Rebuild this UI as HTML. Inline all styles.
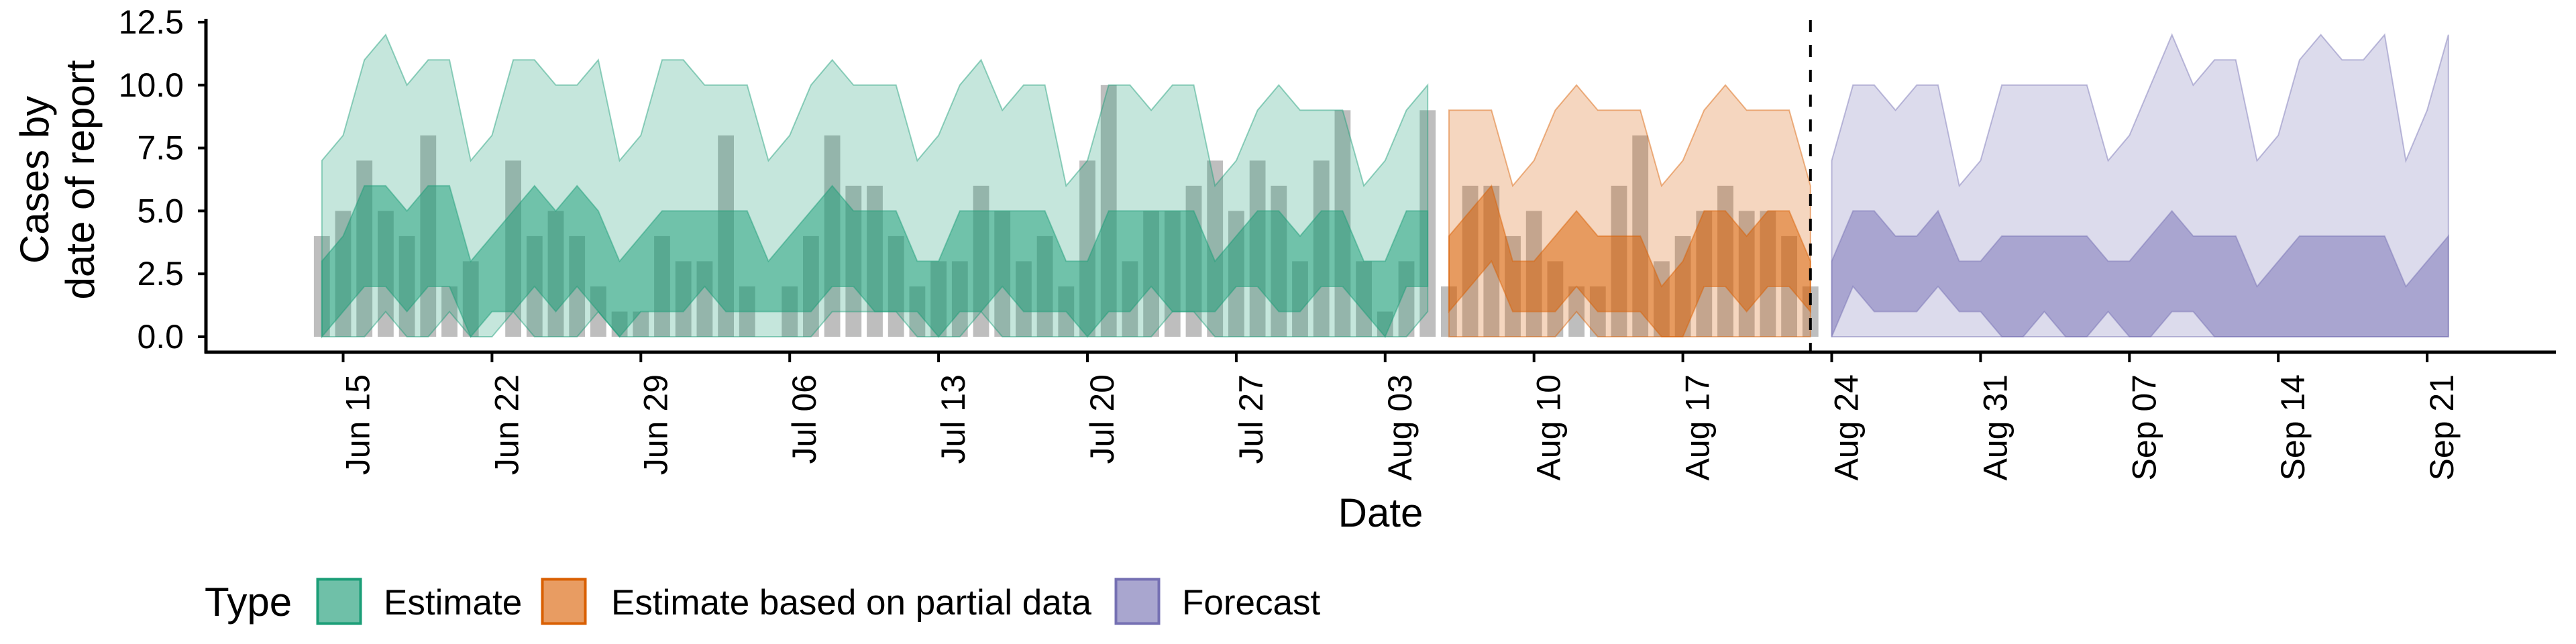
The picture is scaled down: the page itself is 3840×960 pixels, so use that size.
<!DOCTYPE html>
<html><head><meta charset="utf-8">
<style>
html,body{margin:0;padding:0;background:#fff;}
svg{display:block;font-family:"Liberation Sans",Arial,sans-serif;}
</style></head>
<body>
<svg id="chart" width="3840" height="960" viewBox="0 0 3840 960" xmlns="http://www.w3.org/2000/svg">
<g id="bars"></g>
<g id="ribbons"></g>
<g id="axes"></g>
<text x="2058" y="785" font-size="60" text-anchor="middle">Date</text>
<text transform="translate(72,268) rotate(-90)" font-size="60" text-anchor="middle">Cases by</text>
<text transform="translate(140,268) rotate(-90)" font-size="60" text-anchor="middle">date of report</text>
<g>
  <text x="305" y="918" font-size="60">Type</text>
  <g>
    <rect x="473.5" y="863.5" width="64" height="66" fill="#6fc0a8" stroke="#1b9e77" stroke-width="4"/>
    <text x="572" y="916" font-size="53">Estimate</text>
  </g>
  <g>
    <rect x="808.5" y="863.5" width="64" height="66" fill="#e89c62" stroke="#d95f02" stroke-width="4"/>
    <text x="911" y="916" font-size="53">Estimate based on partial data</text>
  </g>
  <g>
    <rect x="1663.5" y="863.5" width="64" height="66" fill="#a9a6cf" stroke="#7570b3" stroke-width="4"/>
    <text x="1762" y="916" font-size="53">Forecast</text>
  </g>
</g>
</svg>
<script>
// day index 0 = Jun 14
const barValues = [4,5,7,5,4,8,2,3,0,7,4,5,4,2,1,1,4,3,
 3,8,2,0,2,4,8,6,6,4,2,3,3,6,5,3,4,2,
 7,10,3,5,5,6,7,5,7,6,3,7,9,3,1,3,9,
 2,6,6,4,5,3,2,2,6,8,3,4,5,6,5,5,4,2];
const estStart = 0;
const estOuterUp = [7,8,11,12,10,11,11,7,8,11,11,10,10,11,7,8,11,11,10,10,10,7,8,10,11,10,10,10,7,8,10,11,9,10,10,6,7,10,10,9,10,10,6,7,9,10,9,9,9,6,7,9,10];
const estOuterLo = [0,0,0,1,0,0,1,0,0,1,0,0,0,1,0,0,0,0,0,0,0,0,0,0,1,1,1,1,0,0,0,1,0,0,0,0,0,0,0,0,1,1,0,0,0,0,0,0,0,0,0,0,1];
const estInnerUp = [3,4,6,6,5,6,6,3,4,5,6,5,6,5,3,4,5,5,5,5,5,3,4,5,6,5,5,5,3,3,5,5,5,5,5,3,3,5,5,5,5,5,3,4,5,5,4,5,5,3,3,5,5];
const estInnerLo = [0,1,2,2,1,2,2,0,1,1,2,1,2,1,0,1,1,1,2,1,1,1,1,1,2,2,1,1,1,0,1,1,2,1,1,1,0,1,1,2,1,1,1,2,2,1,1,2,2,1,0,2,2];
const partStart = 53;
const partOuterUp = [9,9,9,6,7,9,10,9,9,9,6,7,9,10,9,9,9,6];
const partOuterLo = [0,0,0,0,0,0,1,0,0,0,0,0,0,0,0,0,0,0];
const partInnerUp = [4,5,6,3,3,4,5,4,4,4,2,3,5,5,4,5,5,3];
const partInnerLo = [1,2,3,1,1,1,2,1,1,1,0,0,2,2,1,2,2,1];
const fcStart = 71;
const fcOuterUp = [7,10,10,9,10,10,6,7,10,10,10,10,10,7,8,10,12,10,11,11,7,8,11,12,11,11,12,7,9,12];
const fcOuterLo = [0,0,0,0,0,0,0,0,0,0,0,0,0,0,0,0,0,0,0,0,0,0,0,0,0,0,0,0,0,0];
const fcInnerUp = [3,5,5,4,4,5,3,3,4,4,4,4,4,3,3,4,5,4,4,4,2,3,4,4,4,4,4,2,3,4];
const fcInnerLo = [0,2,1,1,1,2,1,1,0,0,1,0,0,1,0,0,1,1,0,0,0,0,0,0,0,0,0,0,0,0];
const yTicks = [0,2.5,5,7.5,10,12.5];
const yTickLabels = ["0.0","2.5","5.0","7.5","10.0","12.5"];
const xTickDays = [1,8,15,22,29,36,43,50,57,64,71,78,85,92,99];
const xTickLabels = ["Jun 15","Jun 22","Jun 29","Jul 06","Jul 13","Jul 20","Jul 27","Aug 03","Aug 10","Aug 17","Aug 24","Aug 31","Sep 07","Sep 14","Sep 21"];
const forecastDay = 70;

const NS = "http://www.w3.org/2000/svg";
function xS(d){ return 479.8 + 31.7*d; }
function yS(v){ return 502 - v*37.52; }
function mk(tag, attrs, parent){
  const e = document.createElementNS(NS, tag);
  for (const k in attrs) e.setAttribute(k, attrs[k]);
  parent.appendChild(e); return e;
}
const barsG = document.getElementById('bars');
barValues.forEach((v,i)=>{
  const r = mk('rect',{x:xS(i)-11.9, y:yS(v), width:23.8, height:Math.max(0,yS(0)-yS(v)), fill:'#bebebe'}, barsG);
  
  
});
const ribG = document.getElementById('ribbons');
function ribbon(start, up, lo, color, alpha, name){
  let pts = [];
  up.forEach((v,i)=>pts.push(xS(start+i).toFixed(1)+','+yS(v).toFixed(1)));
  for (let i=lo.length-1;i>=0;i--) pts.push(xS(start+i).toFixed(1)+','+yS(lo[i]).toFixed(1));
  const p = mk('polygon',{points:pts.join(' '), fill:color, 'fill-opacity':alpha, stroke:color, 'stroke-opacity':0.45, 'stroke-width':2}, ribG);
  
  
}
ribbon(estStart, estOuterUp, estOuterLo, '#1b9e77', 0.254, 'estimate-outer-ribbon');
ribbon(estStart, estInnerUp, estInnerLo, '#1b9e77', 0.5, 'estimate-inner-ribbon');
ribbon(partStart, partOuterUp, partOuterLo, '#d95f02', 0.254, 'partial-outer-ribbon');
ribbon(partStart, partInnerUp, partInnerLo, '#d95f02', 0.5, 'partial-inner-ribbon');
ribbon(fcStart, fcOuterUp, fcOuterLo, '#7570b3', 0.254, 'forecast-outer-ribbon');
ribbon(fcStart, fcInnerUp, fcInnerLo, '#7570b3', 0.5, 'forecast-inner-ribbon');

const ax = document.getElementById('axes');
const dl = mk('line',{x1:xS(forecastDay), x2:xS(forecastDay), y1:30, y2:525, stroke:'#000', 'stroke-width':4, 'stroke-dasharray':'18 19'}, ax);


const ya = mk('line',{x1:307, x2:307, y1:28, y2:527, stroke:'#000', 'stroke-width':5}, ax);


const xa = mk('line',{x1:305, x2:3810, y1:525, y2:525, stroke:'#000', 'stroke-width':5}, ax);


yTicks.forEach((v,i)=>{
  const t = mk('line',{x1:295, x2:307, y1:yS(v), y2:yS(v), stroke:'#000', 'stroke-width':4}, ax);
  
  
  const l = mk('text',{x:274, y:yS(v)+17, 'font-size':50, 'text-anchor':'end'}, ax);
  l.textContent = yTickLabels[i];
  
  
});
xTickDays.forEach((d,i)=>{
  const x = xS(d);
  const t = mk('line',{x1:x, x2:x, y1:525, y2:540, stroke:'#000', 'stroke-width':4}, ax);
  
  
  const l = mk('text',{transform:'translate('+(x+39)+',558) rotate(-90)', 'font-size':50, 'text-anchor':'end'}, ax);
  l.textContent = xTickLabels[i];
  
  
});
</script>
</body></html>
